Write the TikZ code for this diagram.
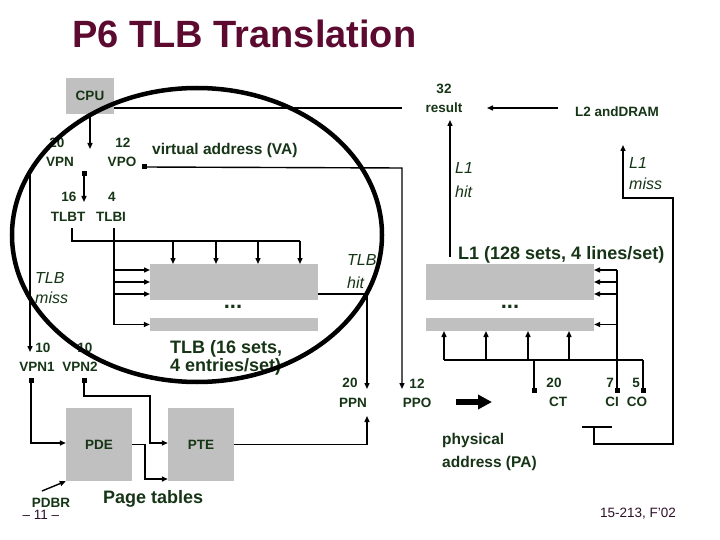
\documentclass[tikz,border=0pt]{standalone}
\usepackage{fontspec}
\setmainfont{Liberation Sans}
\usetikzlibrary{arrows.meta}
\definecolor{tgreen}{RGB}{22,52,22}
\definecolor{ttitle}{RGB}{92,10,48}
\definecolor{tgrey}{RGB}{192,192,192}
\definecolor{tfoot}{RGB}{45,15,40}
\begin{document}
\begin{tikzpicture}[x=1pt,y=-1pt,
  lbl/.style={text=tgreen, font=\fontsize{13.5}{15}\selectfont\bfseries, inner sep=0},
  ital/.style={text=tgreen, font=\fontsize{16}{18}\selectfont\itshape, inner sep=0, anchor=base west},
  big/.style={text=tgreen, font=\fontsize{18}{20}\selectfont\bfseries, inner sep=0, anchor=base west},
  mid/.style={text=tgreen, font=\fontsize{15.5}{18}\selectfont\bfseries, inner sep=0, anchor=base west},
  dots/.style={text=tgreen, font=\fontsize{22}{24}\selectfont\bfseries, inner sep=0},
  foottext/.style={text=tfoot, font=\fontsize{13.5}{15}\selectfont, inner sep=0},
  gbox/.style={fill=tgrey, draw=none, inner sep=0, rectangle},
  conn/.style={line width=1.4pt},
  arr/.style={conn, -{Triangle[length=6pt,width=5pt]}},
  sq/.style={fill=black, minimum size=5pt, inner sep=0, rectangle},
]
\fill[white] (0,0) rectangle (720,540);
\useasboundingbox (0,0) rectangle (720,540);

% title
\node[font=\fontsize{38}{40}\selectfont\bfseries, text=ttitle, anchor=base west, inner sep=0] (title) at (72,48) {P6 TLB Translation};

% boxes
\node[gbox, minimum width=48pt, minimum height=36pt, lbl] (cpu) at (90,96) {CPU};
\node[gbox, minimum width=168pt, minimum height=36pt] (tlbA) at (234,282) {};
\node[gbox, minimum width=168pt, minimum height=13pt] (tlbB) at (234,324.5) {};
\node[gbox, minimum width=168pt, minimum height=36pt] (l1A) at (510,282) {};
\node[gbox, minimum width=168pt, minimum height=13pt] (l1B) at (510,324.5) {};
\node[gbox, minimum width=66pt, minimum height=73pt, lbl] (pde) at (99,444.5) {PDE};
\node[gbox, minimum width=66pt, minimum height=73pt, lbl] (pte) at (201,444.5) {PTE};

% labels
\node[lbl] (n20a) at (57,143) {20};
\node[lbl] (vpn) at (60,162) {VPN};
\node[lbl] (n12a) at (123,143) {12};
\node[lbl] (vpo) at (122,162) {VPO};
\node[mid] (va) at (152,155) {virtual address (VA)};
\node[lbl] (n16) at (69,197) {16};
\node[lbl] (n4) at (112,197) {4};
\node[lbl] (tlbt) at (68,217) {TLBT};
\node[lbl] (tlbi) at (111,217) {TLBI};
\node[ital] (tlbmissA) at (35,283) {TLB};
\node[ital] (tlbmissB) at (35,303) {miss};
\node[lbl] (n10a) at (43,348) {10};
\node[lbl] (n10b) at (85,348) {10};
\node[lbl] (vpnone) at (37,367) {VPN1};
\node[lbl] (vpntwo) at (80,367) {VPN2};
\node[big] (tlbcapA) at (170,353.5) {TLB (16 sets,};
\node[big] (tlbcapB) at (170,371.5) {4 entries/set)};
\node[dots] (tlbdots) at (233,307) {...};
\node[dots] (l1dots) at (510,307) {...};
\node[big] (l1cap) at (458,259.5) {L1 (128 sets, 4 lines/set)};
\node[ital] (tlbhitA) at (347,265) {TLB};
\node[ital] (tlbhitB) at (347,288) {hit};
\node[lbl] (n20p) at (350,383) {20};
\node[lbl] (ppn) at (353,403) {PPN};
\node[lbl] (n12p) at (417,384) {12};
\node[lbl] (ppo) at (417,403) {PPO};
\node[lbl] (n32) at (444,89) {32};
\node[lbl] (result) at (444,108) {result};
\node[lbl] (l2) at (617,112) {L2 andDRAM};
\node[ital] (l1hitA) at (455,174) {L1};
\node[ital] (l1hitB) at (455,198) {hit};
\node[ital] (l1missA) at (629,169) {L1};
\node[ital] (l1missB) at (629,190) {miss};
\node[lbl] (n20c) at (554,383) {20};
\node[lbl] (ct) at (558,402) {CT};
\node[lbl] (n7) at (610,383) {7};
\node[lbl] (n5) at (636,383) {5};
\node[lbl] (ci) at (612,402) {CI};
\node[lbl] (co) at (637,402) {CO};
\node[mid] (physA) at (442,444) {physical};
\node[mid] (physB) at (442,467) {address (PA)};
\node[big] (ptables) at (103,503.5) {Page tables};
\node[lbl] (pdbr) at (51,503) {PDBR};
\node[foottext] (pnum) at (41,515) {– 11 –};
\node[foottext] (foot) at (638,514) {15-213, F'02};

% end squares
\node[sq] (sqvpo) at (144,167) {};
\node[sq] (sqvpn) at (84,174) {};
\node[sq] (sqvpnone) at (31,380) {};
\node[sq] (sqvpntwo) at (84,380) {};
\node[sq] (sqct) at (534,390) {};
\node[sq] (sqci) at (617,390) {};
\node[sq] (sqco) at (643,390) {};

% coordinates
\coordinate (cpuarr) at (90,149);
\coordinate (resline) at (402,108);
\coordinate (lzw) at (558,108);
\coordinate (resE) at (487,108);
\coordinate (vaR) at (402,168);
\coordinate (ppoarr) at (402,389);
\coordinate (vpnarr) at (84,202);
\coordinate (tlbtA) at (72,228);
\coordinate (tlbtB) at (72,241);
\coordinate (tlbtC) at (300,241);
\coordinate (tlbiA) at (114,228);
\coordinate (tlbiB) at (114,324.5);
\coordinate (missA) at (30,172);
\coordinate (missB) at (30,352);
\coordinate (hitA) at (318,294);
\coordinate (hitB) at (367,294);
\coordinate (ppnarr) at (367,389);
\coordinate (vpnoneA) at (31,443);
\coordinate (vpntwoA) at (84,396);
\coordinate (vpntwoB) at (150,396);
\coordinate (vpntwoC) at (150,443);
\coordinate (pdeA) at (145,444.5);
\coordinate (pdeB) at (145,479);
\coordinate (pteA) at (367,444.5);
\coordinate (pteB) at (367,416);
\coordinate (pdbrA) at (42,491);
\coordinate (paA) at (456,402);
\coordinate (paB) at (492,402);
\coordinate (lhitA) at (450,257);
\coordinate (lhitB) at (450,120);
\coordinate (teeA) at (582,427);
\coordinate (teeB) at (612,427);
\coordinate (teeC) at (594,427);
\coordinate (lmA) at (594,444);
\coordinate (lmB) at (673,444);
\coordinate (lmC) at (673,198);
\coordinate (lmD) at (623,198);
\coordinate (lmE) at (623,145);
\coordinate (busA) at (444,360);
\coordinate (busB) at (643,360);
\coordinate (ctup) at (534,360);
\coordinate (ciup) at (617,270);

% connectors
\draw[arr] (cpu.south) -- (cpuarr);
\draw[conn] (cpu.east |- resline) -- (resline);
\draw[arr] (lzw) -- (resE);
\draw[arr] (sqvpo.center) -- (vaR) -- (ppoarr);
\draw[arr] (sqvpn.center) -- (vpnarr);
\draw[conn] (tlbtA) -- (tlbtB) -- (tlbtC);
\foreach \xx in {173,216,258,300} \draw[arr] (\xx,241) -- (\xx,264);
\draw[conn] (tlbiA) -- (tlbiB);
\foreach \yy in {270,282,294} \draw[arr] (114,\yy) -- (150,\yy);
\draw[arr] (tlbiB) -- (tlbB.west);
\draw[arr] (missA) -- (missB);
\draw[arr] (hitA) -- (hitB) -- (ppnarr);
\draw[arr] (sqvpnone.center) -- (vpnoneA) -- (pde.west |- vpnoneA);
\draw[arr] (sqvpntwo.center) -- (vpntwoA) -- (vpntwoB) -- (vpntwoC) -- (pte.west |- vpntwoC);
\draw[arr] (pde.east) -- (pdeA) -- (pdeB) -- (pte.west |- pdeB);
\draw[arr] (pte.east) -- (pteA) -- (pteB);
\draw[arr] (pdbrA) -- (pde.south west);
\draw[line width=6.5pt, -{Triangle[length=14pt,width=14pt]}] (paA) -- (paB);
\draw[arr] (lhitA) -- (lhitB);
\draw[conn] (teeA) -- (teeB);
\draw[arr] (teeC) -- (lmA) -- (lmB) -- (lmC) -- (lmD) -- (lmE);
\draw[conn] (busA) -- (busB);
\draw[conn] (sqct.center) -- (ctup);
\draw[conn] (sqco.center) -- (busB);
\foreach \xx in {444,486,528,569} \draw[arr] (\xx,360) -- (\xx,331);
\draw[conn] (sqci.center) -- (ciup);
\foreach \yy in {270,282,294} \draw[arr] (617,\yy) -- (594,\yy);
\draw[arr] (617,324.5) -- (l1B.east);

% big ellipse on top
\draw[line width=4.5pt] (197,235) ellipse [x radius=185pt, y radius=147pt];
\end{tikzpicture}
\end{document}
